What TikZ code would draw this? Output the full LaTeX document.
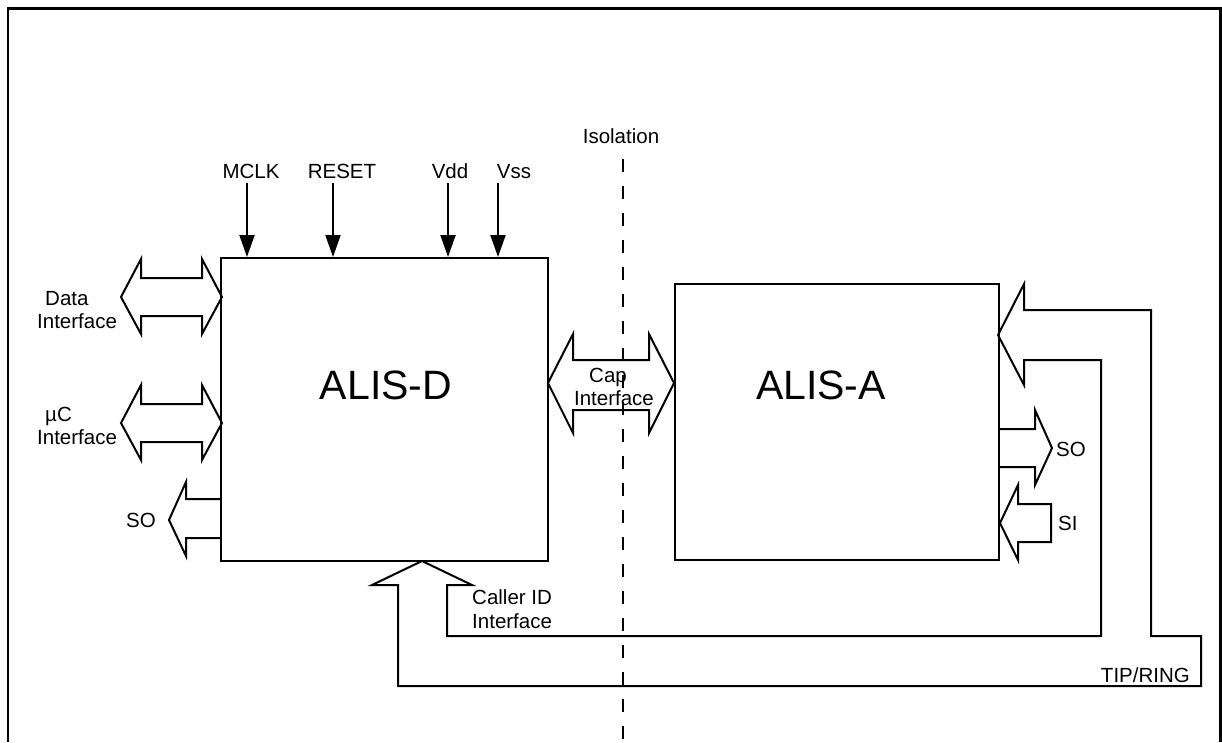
\documentclass[tikz,border=0pt]{standalone}
\usepackage{fontspec}
\setmainfont{Liberation Sans}
\usetikzlibrary{arrows.meta}
\begin{document}
\begin{tikzpicture}[x=1pt,y=-1pt, line join=miter,
  lbl/.style={font=\fontsize{20.5}{24}\selectfont, inner sep=0pt, text height=14.7pt, text depth=0pt},
  big/.style={font=\fontsize{41}{48}\selectfont, inner sep=0pt, text height=29.4pt, text depth=0pt},
  ln/.style={line width=2pt},
  sig/.style={line width=2pt, -{Triangle[length=22pt,width=15pt]}},
  blk/.style={draw, line width=2pt, rectangle, inner sep=0pt},
  dashline/.style={line width=2pt, dash pattern=on 13pt off 14pt}
]
\useasboundingbox (0,0) rectangle (1222,742);
% frame
\draw[line width=3.3pt] (6.8,8.5) -- (1221.7,8.5);
\draw[line width=2.3pt] (8,7) -- (8,742);
\draw[line width=2.3pt] (1220.5,7) -- (1220.5,742);

% blocks
\node[blk, minimum width=327pt, minimum height=303pt] (alisd) at (384.5,409.5) {};
\node[blk, minimum width=324.5pt, minimum height=276pt] (alisa) at (836.75,422) {};
\node[big] (tD) at (386,385) {ALIS-D};
\node[big] (tA) at (821,385) {ALIS-A};

% isolation
\node[lbl] (iso) at (621,136) {Isolation};
\coordinate (isoT) at (623,159);
\coordinate (isoB) at (623,742);
\draw[dashline] (isoT) -- (isoB);

% top signals
\node[lbl] (mclk) at (251,171) {MCLK};
\node[lbl] (reset) at (342,171) {RESET};
\node[lbl] (vdd) at (450,171) {Vdd};
\node[lbl] (vss) at (514,171) {Vss};
\coordinate (mclk0) at (247,183);
\coordinate (reset0) at (333,183);
\coordinate (vdd0) at (448,183);
\coordinate (vss0) at (498,183);
\draw[sig] (mclk0) -- (mclk0 |- alisd.north);
\draw[sig] (reset0) -- (reset0 |- alisd.north);
\draw[sig] (vdd0) -- (vdd0 |- alisd.north);
\draw[sig] (vss0) -- (vss0 |- alisd.north);

% Data interface
\draw[ln] (121,297) -- (141,259) -- (141,278) -- (202,278) -- (202,259) -- (222,297)
  -- (202,334) -- (202,316) -- (141,316) -- (141,334) -- cycle;
\node[lbl, anchor=west] (data1) at (45,298) {Data};
\node[lbl, anchor=west] (data2) at (37,321) {Interface};

% uC interface
\draw[ln] (121,423) -- (141,385) -- (141,404) -- (202,404) -- (202,385) -- (222,423)
  -- (202,460) -- (202,442) -- (141,442) -- (141,460) -- cycle;
\node[lbl, anchor=west] (uc1) at (45,414) {µC};
\node[lbl, anchor=west] (uc2) at (37,437) {Interface};

% SO left
\draw[ln] (221,499) -- (186,499) -- (186,482) -- (169,520) -- (186,556) -- (186,538) -- (221,538);
\node[lbl] (soL) at (141,520) {SO};

% Cap interface
\draw[ln] (548,383) -- (573,334) -- (573,360) -- (649,360) -- (649,334) -- (674,383)
  -- (649,433) -- (649,410) -- (573,410) -- (573,433) -- cycle;
\node[lbl] (cap1) at (608,375) {Cap};
\node[lbl] (cap2) at (614,398) {Interface};

% SO right
\draw[ln] (999,429) -- (1035,429) -- (1035,410) -- (1052,448) -- (1035,485) -- (1035,467) -- (999,467);
\node[lbl, anchor=west] (soR) at (1056,449) {SO};

% SI
\draw[ln] (1000,523) -- (1018,485) -- (1018,504) -- (1051,504) -- (1051,542) -- (1018,542) -- (1018,560) -- cycle;
\node[lbl, anchor=west] (si) at (1058,523) {SI};

% TIP/RING and Caller ID bus
\draw[ln] (998,335) -- (1024,284) -- (1024,310) -- (1151,310) -- (1151,636) -- (1201,636)
  -- (1201,686) -- (398,686) -- (398,585) -- (372,585) -- (422,561) -- (472,585)
  -- (447,585) -- (447,636) -- (1101,636) -- (1101,360) -- (1024,360) -- (1024,385) -- cycle;
\node[lbl, anchor=west] (cid1) at (472,597) {Caller ID};
\node[lbl, anchor=west] (cid2) at (472,621) {Interface};
\node[lbl, anchor=east] (tr) at (1190,675) {TIP/RING};
\end{tikzpicture}
\end{document}
